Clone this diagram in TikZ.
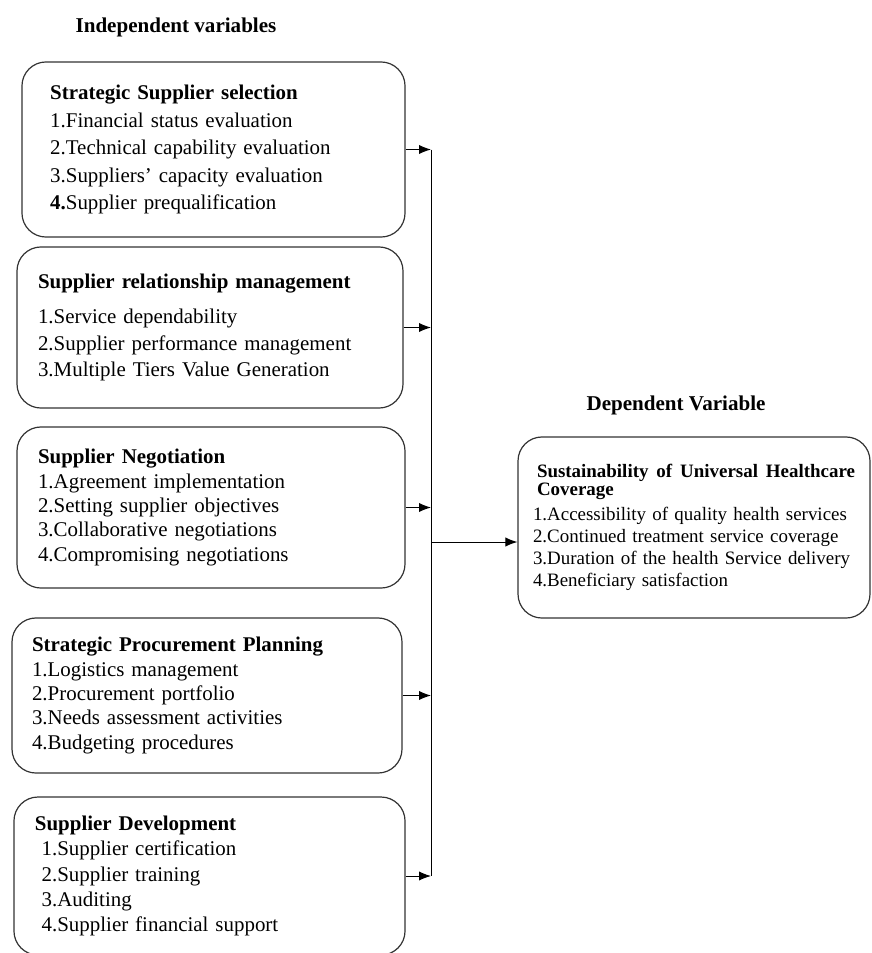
\documentclass[tikz,border=0pt]{standalone}
\usepackage{fontspec}
\setmainfont{Liberation Serif}
\usetikzlibrary{arrows.meta}

\tikzset{every picture/.style={line width=0.75pt}}
\tikzset{
	varbox/.style={draw=black!80, line width=0.9pt, rounded corners=18pt, align=left, inner sep=0pt},
	headtxt/.style={font=\fontsize{15.8}{18}\selectfont\bfseries},
	link/.style={-{Latex[length=9pt,width=7pt]}}}

\begin{document}
\begin{tikzpicture}[x=0.75pt,y=0.75pt,yscale=-1,xscale=1]
	\useasboundingbox (0,0) rectangle (871,953);

	% Text Node
	\node[headtxt] (indephead) at (176,27) {Independent variables};
	% Text Node
	\node[headtxt] (dephead) at (676,405) {Dependent Variable};

	%Shape: Rounded Rectangle [strategic supplier selection]
	\node[varbox, minimum width=287.3pt, minimum height=131.3pt, text width=245pt, font=\fontsize{15.7}{20.6}\selectfont] (sss) at (213.5,149.5)
		{\textbf{Strategic Supplier selection}\\
		 1.Financial status evaluation\\
		 2.Technical capability evaluation\\
		 3.Suppliers' capacity evaluation\\
		 \textbf{4.}Supplier prequalification};
	%Shape: Rounded Rectangle [supplier relationship management]
	\node[varbox, minimum width=289.5pt, minimum height=120.8pt, text width=258pt, font=\fontsize{15.7}{19.9}\selectfont] (srm) at (210,327.5)
		{\textbf{Supplier relationship management}\\[6.4pt]
		 1.Service dependability\\
		 2.Supplier performance management\\
		 3.Multiple Tiers Value Generation};
	%Shape: Rounded Rectangle [supplier negotiation]
	\node[varbox, minimum width=291pt, minimum height=120.8pt, text width=259.5pt, font=\fontsize{15.7}{18.2}\selectfont] (sneg) at (211,507.5)
		{\textbf{Supplier Negotiation}\\
		 1.Agreement implementation\\
		 2.Setting supplier objectives\\
		 3.Collaborative negotiations\\
		 4.Compromising negotiations};
	%Shape: Rounded Rectangle [strategic procurement planning]
	\node[varbox, minimum width=292.5pt, minimum height=116.3pt, text width=262.5pt, font=\fontsize{15.7}{18.2}\selectfont] (spp) at (207,695.5)
		{\textbf{Strategic Procurement Planning}\\
		 1.Logistics management\\
		 2.Procurement portfolio\\
		 3.Needs assessment activities\\
		 4.Budgeting procedures};
	%Shape: Rounded Rectangle [supplier development]
	\node[varbox, minimum width=293.3pt, minimum height=118.5pt, text width=261.8pt, font=\fontsize{15.7}{18.8}\selectfont] (sdev) at (209.5,876)
		{\textbf{Supplier Development}\\
		 \hspace*{5pt}1.Supplier certification\\
		 \hspace*{5pt}2.Supplier training\\
		 \hspace*{5pt}3.Auditing\\
		 \hspace*{5pt}4.Supplier financial support};
	%Shape: Rounded Rectangle [universal healthcare coverage]
	\node[varbox, minimum width=264pt, minimum height=135.8pt, text width=241.5pt, font=\fontsize{14.2}{16.5}\selectfont] (uhc) at (694,527.5)
		{\textbf{\hspace*{3pt}Sustainability \hfill of \hfill Universal \hfill Healthcare}\\[-3pt]
		 \textbf{\hspace*{3pt}Coverage}\\[2pt]
		 1.Accessibility of quality health services\\
		 2.Continued treatment service coverage\\
		 3.Duration of the health Service delivery\\
		 4.Beneficiary satisfaction};

	% junction on the collecting line
	\coordinate (bus) at (431,542);

	%Straight Lines
	\draw[link] (sss.east) -- (sss.east -| bus);
	\draw[link] (srm.east) -- (srm.east -| bus);
	\draw[link] (sneg.east) -- (sneg.east -| bus);
	\draw[link] (spp.east) -- (spp.east -| bus);
	\draw[link] (sdev.east) -- (sdev.east -| bus);
	\draw (sss.east -| bus) -- (sdev.east -| bus);
	\draw[link] (bus) -- (bus -| uhc.west);

\end{tikzpicture}
\end{document}
